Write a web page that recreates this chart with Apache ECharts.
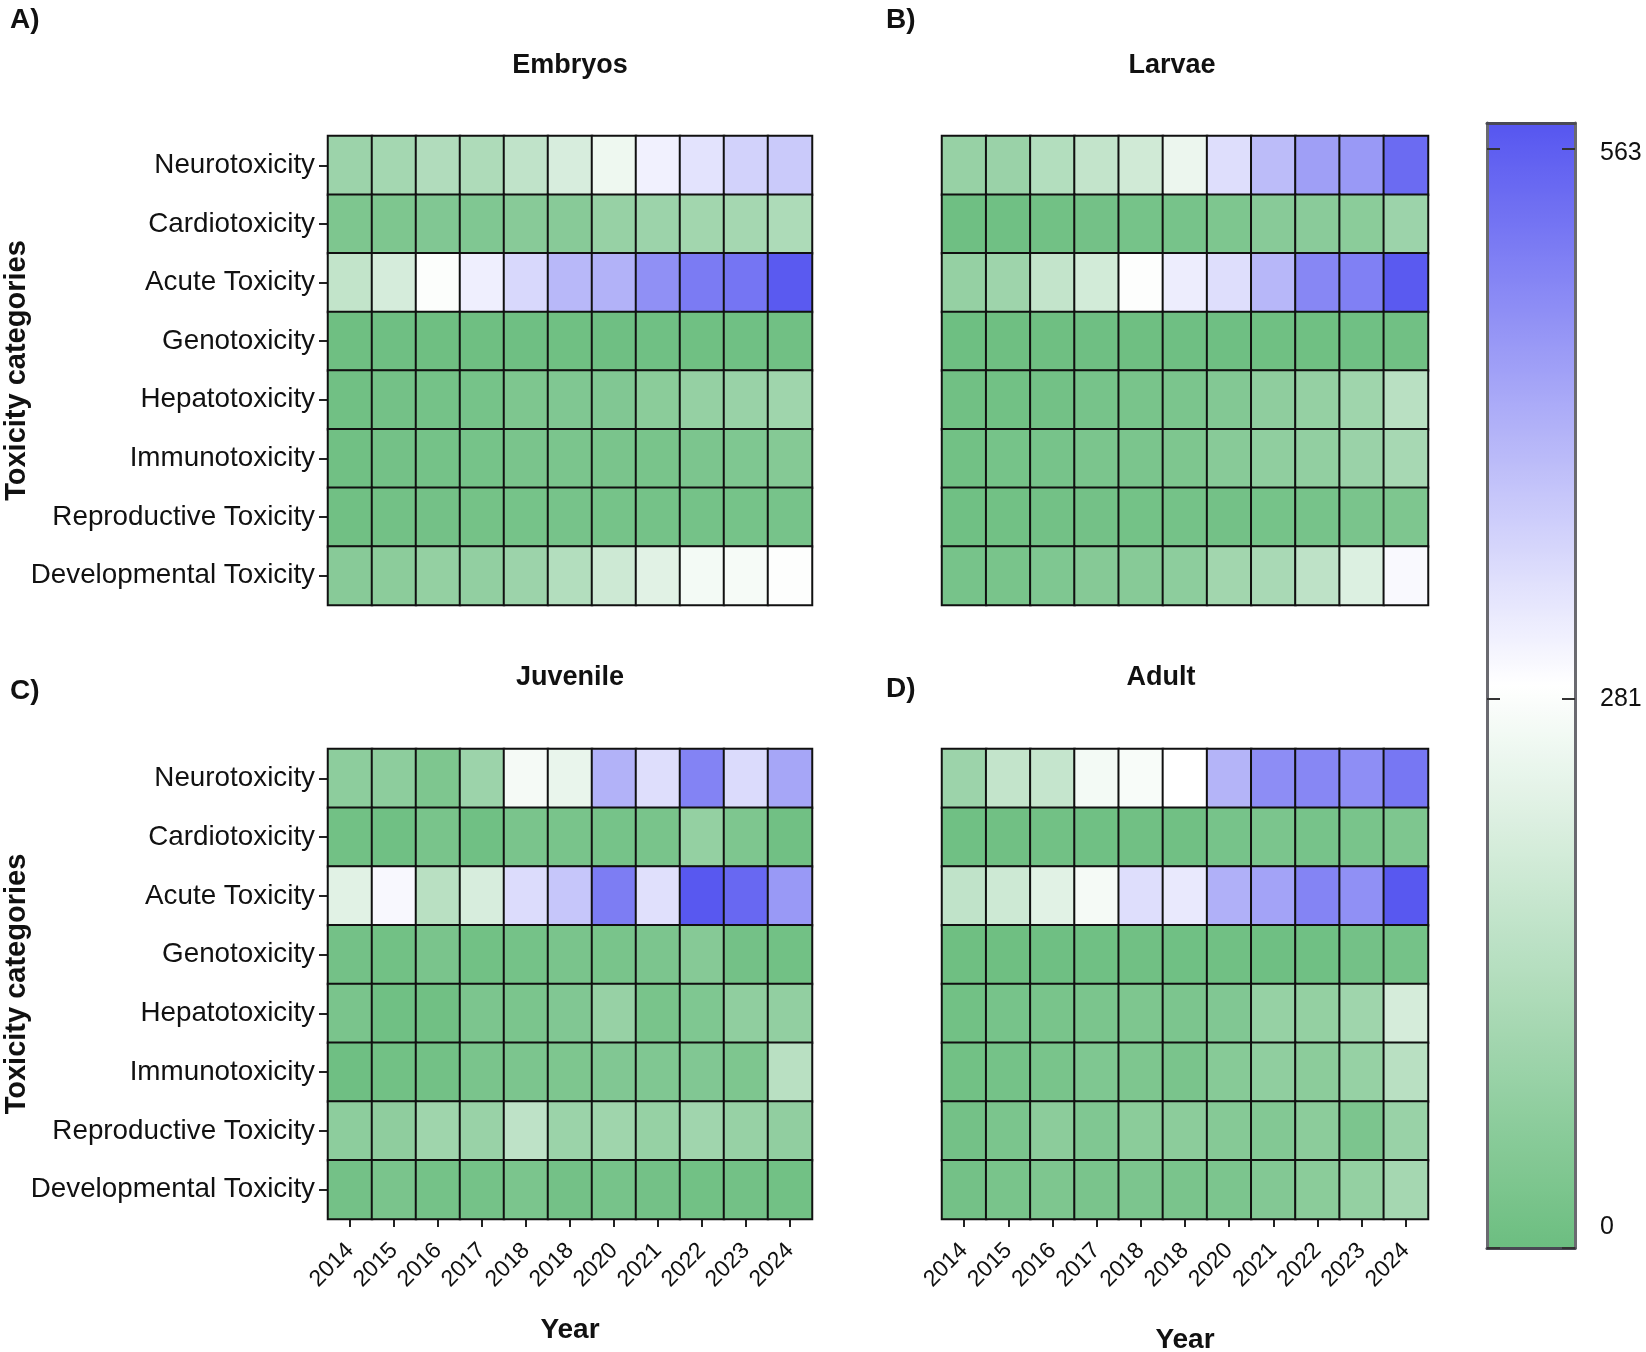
<!DOCTYPE html>
<html>
<head>
<meta charset="utf-8">
<script src="https://cdn.jsdelivr.net/npm/echarts@6/dist/echarts.min.js"></script>
<style>
  html, body { margin: 0; padding: 0; background: #fff; }
  #chart { width: 1646px; height: 1352px; }
</style>
</head>
<body>
<div id="chart"></div>
<script>
const years = ['2014','2015','2016','2017','2018','2018','2020','2021','2022','2023','2024'];
const categories = ['Neurotoxicity','Cardiotoxicity','Acute Toxicity','Genotoxicity','Hepatotoxicity','Immunotoxicity','Reproductive Toxicity','Developmental Toxicity'];
const colorbarTicks = [0, 281, 563];
const colorMin = 0;
const colorMax = 576;

// Embryos (rows follow categories, columns follow years)
const embryos = [
  [95, 110, 135, 130, 165, 210, 255, 312, 335, 365, 378],
  [35, 35, 42, 40, 55, 55, 85, 95, 105, 112, 128],
  [168, 206, 282, 315, 354, 409, 419, 478, 513, 523, 570],
  [5, 6, 5, 5, 6, 7, 6, 8, 7, 8, 9],
  [10, 15, 18, 20, 35, 40, 42, 60, 80, 88, 100],
  [10, 15, 18, 20, 28, 30, 28, 25, 32, 38, 48],
  [10, 14, 15, 17, 20, 22, 20, 18, 18, 20, 22],
  [55, 62, 78, 75, 95, 140, 190, 230, 265, 270, 284]
];
// Larvae
const larvae = [
  [85, 90, 140, 170, 195, 250, 345, 402, 452, 462, 540],
  [6, 8, 12, 15, 20, 22, 35, 55, 58, 60, 95],
  [80, 98, 170, 200, 284, 318, 345, 410, 492, 505, 570],
  [4, 5, 5, 6, 5, 6, 6, 7, 7, 8, 9],
  [10, 12, 14, 22, 25, 30, 45, 68, 80, 100, 150],
  [12, 20, 22, 30, 30, 35, 55, 70, 75, 90, 115],
  [8, 12, 14, 15, 16, 18, 15, 20, 22, 28, 35],
  [22, 25, 38, 50, 52, 65, 105, 120, 160, 220, 298]
];
// Juvenile
const juvenile = [
  [65, 65, 35, 95, 268, 245, 420, 345, 500, 350, 440],
  [12, 8, 25, 8, 28, 25, 20, 25, 78, 35, 10],
  [230, 300, 150, 210, 348, 385, 510, 340, 572, 545, 462],
  [15, 12, 28, 12, 18, 28, 25, 32, 50, 15, 12],
  [28, 8, 10, 32, 30, 42, 85, 25, 38, 70, 75],
  [6, 12, 14, 28, 32, 35, 42, 40, 42, 35, 150],
  [65, 68, 100, 88, 160, 92, 100, 82, 102, 85, 72],
  [15, 28, 18, 18, 30, 15, 22, 15, 12, 14, 12]
];
// Adult
const adult = [
  [95, 170, 175, 265, 275, 288, 415, 482, 492, 480, 520],
  [8, 10, 12, 8, 10, 10, 22, 30, 22, 25, 35],
  [165, 190, 230, 268, 345, 325, 422, 445, 498, 478, 572],
  [5, 5, 6, 8, 10, 8, 10, 6, 8, 15, 18],
  [12, 22, 25, 30, 35, 32, 42, 82, 78, 100, 205],
  [12, 18, 25, 38, 35, 28, 52, 70, 62, 82, 150],
  [15, 30, 62, 40, 60, 62, 50, 45, 62, 32, 88],
  [15, 25, 35, 28, 32, 28, 32, 45, 60, 78, 112]
];

const panels = [
  { name: 'Embryos', letter: 'A)', values: embryos },
  { name: 'Larvae', letter: 'B)', values: larvae },
  { name: 'Juvenile', letter: 'C)', values: juvenile },
  { name: 'Adult', letter: 'D)', values: adult }
];

const FONT = '"Liberation Sans", Arial, Helvetica, sans-serif';

// layout (pixels)
const gridBoxes = [
  { left: 328, top: 136, width: 484, height: 469 },
  { left: 942, top: 136, width: 486, height: 469 },
  { left: 328, top: 749, width: 484, height: 470 },
  { left: 942, top: 749, width: 486, height: 470 }
];
const barBox = { left: 1487, top: 123, width: 88, height: 1125 };

function toCells(values) {
  const out = [];
  values.forEach((row, i) => row.forEach((v, j) => out.push([j, i, v])));
  return out;
}

const grids = gridBoxes.map(b => Object.assign({ containLabel: false, outerBoundsMode: 'none' }, b));
grids.push(Object.assign({ containLabel: false, outerBoundsMode: 'none' }, barBox));

const xAxes = [];
const yAxes = [];
const series = [];
panels.forEach((p, k) => {
  const bottomRow = k >= 2;
  const leftCol = k % 2 === 0;
  xAxes.push({
    type: 'category', gridIndex: k, data: years, position: 'bottom',
    axisLine: { show: false },
    axisTick: { show: bottomRow, alignWithLabel: true, length: 8, lineStyle: { color: '#222', width: 2 } },
    axisLabel: { show: bottomRow, rotate: 45, interval: 0, margin: 28, fontSize: 23, color: '#111', fontFamily: FONT },
    splitLine: { show: false },
    name: bottomRow ? 'Year' : '',
    nameLocation: 'middle',
    nameMoveOverlap: false,
    nameGap: k === 3 ? 107 : 97,
    nameTextStyle: { fontSize: 28, fontWeight: 'bold', color: '#111', fontFamily: FONT }
  });
  yAxes.push({
    type: 'category', gridIndex: k, data: categories, inverse: true,
    axisLine: { show: false },
    axisTick: { show: leftCol, alignWithLabel: true, length: 9, lineStyle: { color: '#222', width: 2 } },
    axisLabel: { show: leftCol, interval: 0, margin: 13, fontSize: 27.8, color: '#111', fontFamily: FONT },
    splitLine: { show: false },
    name: leftCol ? 'Toxicity categories' : '',
    nameLocation: 'middle',
    nameMoveOverlap: false,
    nameGap: 297,
    nameTextStyle: { fontSize: 29, fontWeight: 'bold', color: '#111', fontFamily: FONT }
  });
  series.push({
    type: 'heatmap', name: p.name, xAxisIndex: k, yAxisIndex: k,
    data: toCells(p.values),
    itemStyle: { borderColor: '#111', borderWidth: 2 },
    emphasis: { disabled: true },
    label: { show: false }
  });
});

// colour-bar frame and ticks (grid 4)
xAxes.push({ type: 'value', gridIndex: 4, min: 0, max: 1, position: 'bottom', z: 10,
  axisLine: { show: true, onZero: false, lineStyle: { color: '#4a4a55', width: 3 } },
  axisTick: { show: false }, axisLabel: { show: false }, splitLine: { show: false } });
xAxes.push({ type: 'value', gridIndex: 4, min: 0, max: 1, position: 'top', z: 10,
  axisLine: { show: true, onZero: false, lineStyle: { color: '#4a4a55', width: 3 } },
  axisTick: { show: false }, axisLabel: { show: false }, splitLine: { show: false } });
yAxes.push({ type: 'value', gridIndex: 4, min: colorMin, max: colorMax, position: 'left', z: 10,
  axisLine: { show: true, onZero: false, lineStyle: { color: '#6a6a70', width: 3 } },
  axisTick: { show: true, inside: true, length: 13, customValues: colorbarTicks, lineStyle: { color: '#333', width: 2 } },
  axisLabel: { show: false }, splitLine: { show: false } });
yAxes.push({ type: 'value', gridIndex: 4, min: colorMin, max: colorMax, position: 'right', z: 10,
  axisLine: { show: true, onZero: false, lineStyle: { color: '#6a6a70', width: 3 } },
  axisTick: { show: true, inside: true, length: 13, customValues: colorbarTicks, lineStyle: { color: '#333', width: 2 } },
  axisLabel: { show: true, inside: false, margin: 25, customValues: colorbarTicks, fontSize: 25, color: '#111', fontFamily: FONT,
    showMinLabel: true, showMaxLabel: true,
    formatter: v => v === 0 ? '{lo|0}' : (v === 563 ? '{hi|563}' : String(v)),
    rich: {
      lo: { fontSize: 25, color: '#111', fontFamily: FONT, padding: [0, 0, 42, 0] },
      hi: { fontSize: 25, color: '#111', fontFamily: FONT, padding: [10, 0, 0, 0] }
    } },
  splitLine: { show: false } });

const titles = [];
const letterPos = [
  { left: 10, top: 6 }, { left: 886, top: 6 }, { left: 10, top: 677 }, { left: 886, top: 675 }
];
const namePos = [
  { left: 570, top: 52 }, { left: 1172, top: 52 }, { left: 570, top: 664 }, { left: 1161, top: 664 }
];
panels.forEach((p, k) => {
  titles.push({ text: p.letter, left: letterPos[k].left, top: letterPos[k].top, padding: 0,
    textStyle: { fontSize: 28, fontWeight: 'bold', color: '#111', fontFamily: FONT } });
  titles.push({ text: p.name, left: namePos[k].left, top: namePos[k].top, textAlign: 'center', padding: 0,
    textStyle: { fontSize: 27, fontWeight: 'bold', color: '#111', fontFamily: FONT } });
});

const chart = echarts.init(document.getElementById('chart'), null, { renderer: 'canvas' });
chart.setOption({
  animation: false,
  backgroundColor: '#ffffff',
  title: titles,
  grid: grids,
  xAxis: xAxes,
  yAxis: yAxes,
  visualMap: {
    type: 'continuous', min: colorMin, max: colorMax, seriesIndex: [0, 1, 2, 3],
    calculable: false, hoverLink: false, realtime: false,
    left: barBox.left, top: barBox.top, itemWidth: barBox.width, itemHeight: barBox.height,
    padding: 0, text: null, z: 1,
    inRange: { color: ['#6cbe80', '#ffffff', '#5656f0'] }
  },
  series: series
});
</script>
</body>
</html>
